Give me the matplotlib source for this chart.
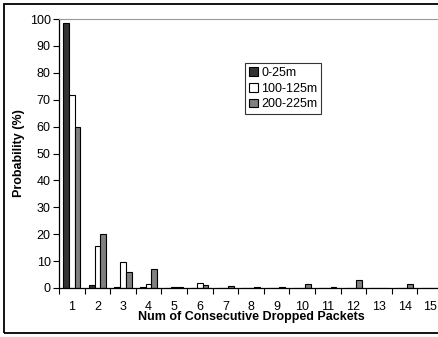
import numpy as np
import matplotlib
matplotlib.use("Agg")
import matplotlib.pyplot as plt
from matplotlib.patches import Rectangle

plt.rcParams['font.family'] = ['Liberation Sans', 'DejaVu Sans']

# burst lengths and probability (%) per distance range
burst_len = list(range(1, 16))
dist_labels = ["0-25m", "100-125m", "200-225m"]
prob_near = [98.6, 1.0, 0.5, 0.4, 0.0, 0.0, 0.0, 0.0, 0.0, 0.0, 0.0, 0.0, 0.0, 0.0, 0.0]
prob_mid = [71.8, 15.7, 9.5, 1.6, 0.4, 1.7, 0.0, 0.0, 0.0, 0.0, 0.0, 0.0, 0.0, 0.0, 0.0]
prob_far = [60.0, 20.0, 5.8, 7.2, 0.4, 1.1, 0.8, 0.4, 0.4, 1.6, 0.4, 3.0, 0.0, 1.5, 0.0]
bar_colors = ["#333333", "#ffffff", "#808080"]

W, H = 439, 337
fig = plt.figure(figsize=(W / 100, H / 100), dpi=100)

# outer chart border (right side is cut off in the original)
fig.patches.append(Rectangle((4 / W, 4 / H), 1.2, 1 - 8 / H,
                             transform=fig.transFigure, fill=False,
                             edgecolor="black", linewidth=1.3))

ax = fig.add_axes([59 / W, 1 - 288 / H, (443 - 59) / W, (288 - 19) / H])

x = np.array(burst_len)
bw = 0.222
series = [prob_near, prob_mid, prob_far]
for i, (vals, col, lab) in enumerate(zip(series, bar_colors, dist_labels)):
    ax.bar(x + (i - 1) * bw, vals, width=bw, color=col, edgecolor="black",
           linewidth=0.8, label=lab)

ax.set_xlim(0.5, 15.5)
ax.set_ylim(0, 100)
ax.set_yticks(range(0, 101, 10))
ax.set_xticks(np.arange(0.5, 16, 1))
ax.set_xticklabels([])
ax.set_xticks(x, minor=True)
ax.set_xticklabels([str(v) for v in burst_len], minor=True)
ax.tick_params(axis="x", which="minor", length=0, labelsize=9, pad=9)
ax.tick_params(axis="x", which="major", length=4, direction="out", width=0.8)
ax.tick_params(axis="y", length=4, direction="out", width=0.8, labelsize=9, pad=2)

ax.spines["top"].set_color("#999999")
ax.spines["right"].set_visible(False)
for s in ["left", "bottom"]:
    ax.spines[s].set_linewidth(0.9)

ax.set_xlabel("Num of Consecutive Dropped Packets", fontsize=9,
              fontweight="bold", labelpad=-1)
ax.set_ylabel("Probability (%)", fontsize=9, fontweight="bold", labelpad=3)

leg = ax.legend(loc="upper left", bbox_to_anchor=((245 - 59) / 384, (288 - 63) / 269),
                fontsize=9, frameon=True, fancybox=False, edgecolor="black",
                handlelength=0.7, handleheight=0.7, handletextpad=0.3,
                borderpad=0.3, labelspacing=0.3, borderaxespad=0)
leg.get_frame().set_linewidth(0.8)

fig.savefig("out.png", dpi=100)
